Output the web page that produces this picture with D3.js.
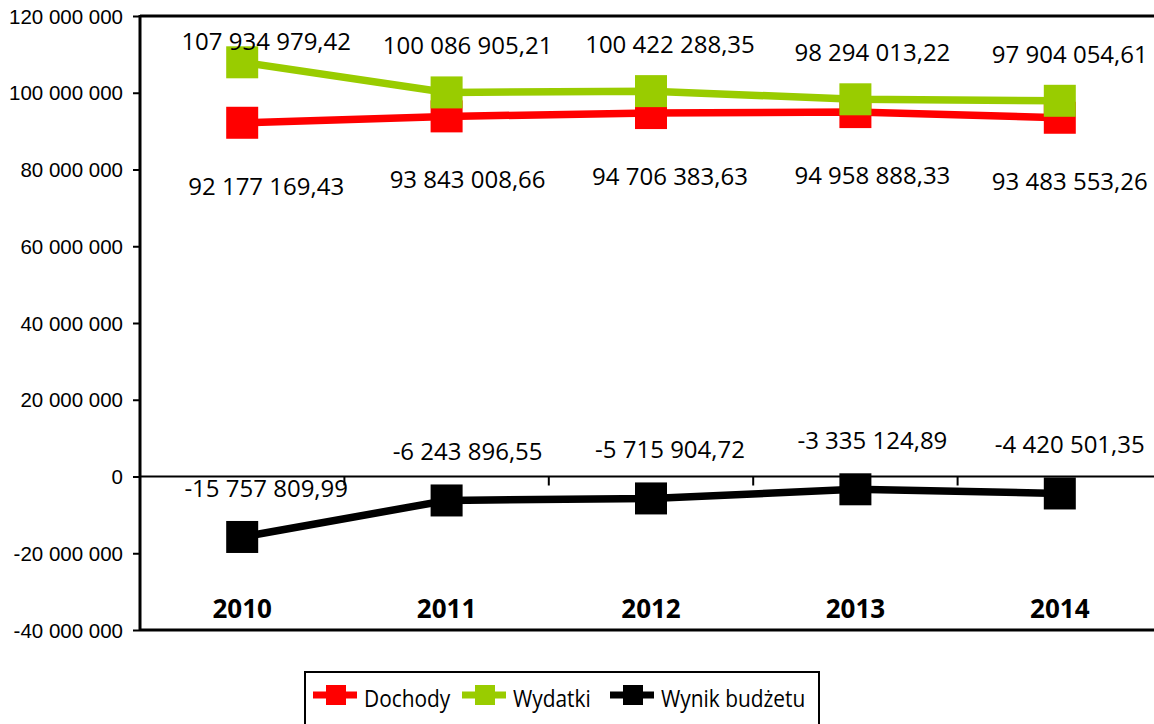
<!DOCTYPE html>
<html>
<head>
<meta charset="utf-8">
<script src="https://cdn.jsdelivr.net/npm/d3@7"></script>
<style>
  body { margin: 0; background: #fff; }
  svg { display: block; font-family: "Open Sans", sans-serif; }
</style>
</head>
<body>
<svg></svg>
<script>
let width = 1154;
let height = 724;

let years = ["2010", "2011", "2012", "2013", "2014"];
let dochody = [92177169.43, 93843008.66, 94706383.63, 94958888.33, 93483553.26];
let wydatki = [107934979.42, 100086905.21, 100422288.35, 98294013.22, 97904054.61];
let wynik = [-15757809.99, -6243896.55, -5715904.72, -3335124.89, -4420501.35];
let yTicks = [-40000000, -20000000, 0, 20000000, 40000000, 60000000, 80000000, 100000000, 120000000];
let seriesNames = ["Dochody", "Wydatki", "Wynik budżetu"];
let seriesColors = ["#ff0000", "#99cc00", "#000000"];

// przesunięcie etykiet w poziomie (jak w oryginale)
let labelDx = [24, 21, 19, 17, 10];

let series = [
    {name: seriesNames[0], values: dochody, color: seriesColors[0], labelDy: 72},
    {name: seriesNames[1], values: wydatki, color: seriesColors[1], labelDy: -38},
    {name: seriesNames[2], values: wynik, color: seriesColors[2], labelDy: -40}
];

let svg = d3.select("svg")
    .attr("width", width)
    .attr("height", height);

let plotLeft = 140, plotRight = 1162, plotTop = 16, plotBottom = 630;

let scaleX = d3.scaleBand()
    .domain(years)
    .range([plotLeft, plotRight])
    .padding(0);

let scaleY = d3.scaleLinear()
    .domain([-40000000, 120000000])
    .range([plotBottom, plotTop]);

// liczby po polsku: spacja tysięcy, przecinek dziesiętny
let fmtInt = v => d3.format(",.0f")(v).replace(/,/g, " ").replace("−", "-");
let fmtDec = v => d3.format(",.2f")(v).replace(/,/g, " ").replace(".", ",").replace("−", "-");

// oś Y
let axisY = d3.axisLeft(scaleY)
    .tickValues(yTicks)
    .tickSize(7)
    .tickFormat(fmtInt);

let gy = svg.append("g")
    .attr("transform", `translate(${plotLeft}, 0)`)
    .call(axisY);
gy.select(".domain").remove();
gy.selectAll("line").attr("stroke", "#000").attr("stroke-width", 2);
gy.selectAll("text")
    .attr("x", -17)
    .attr("dy", "0.35em")
    .style("font-size", "20.5px")
    .attr("fill", "#000");

svg.append("line")
    .attr("x1", plotLeft).attr("x2", plotLeft)
    .attr("y1", plotTop - 1).attr("y2", plotBottom + 1)
    .attr("stroke", "#000").attr("stroke-width", 3);

// ramka góra / dół
[plotTop, plotBottom].forEach(y => {
    svg.append("line")
        .attr("x1", plotLeft).attr("x2", width)
        .attr("y1", y).attr("y2", y)
        .attr("stroke", "#000").attr("stroke-width", 3);
});

// oś X na zerze
svg.append("line")
    .attr("x1", plotLeft).attr("x2", width)
    .attr("y1", scaleY(0)).attr("y2", scaleY(0))
    .attr("stroke", "#000").attr("stroke-width", 2);

svg.append("g")
    .selectAll("line")
    .data(years.slice(0, -1))
    .enter()
    .append("line")
    .attr("x1", d => scaleX(d) + scaleX.bandwidth())
    .attr("x2", d => scaleX(d) + scaleX.bandwidth())
    .attr("y1", scaleY(0))
    .attr("y2", scaleY(0) + 9)
    .attr("stroke", "#000").attr("stroke-width", 2);

// etykiety lat
svg.append("g")
    .selectAll("text")
    .data(years)
    .enter()
    .append("text")
    .attr("x", d => scaleX(d) + scaleX.bandwidth() / 2)
    .attr("y", 618)
    .attr("text-anchor", "middle")
    .style("font-size", "26px")
    .style("font-weight", "bold")
    .text(d => d);

let cx = (d, i) => scaleX(years[i]) + scaleX.bandwidth() / 2;

// linie i znaczniki
series.forEach(s => {
    let line = d3.line()
        .x(cx)
        .y(d => scaleY(d));
    svg.append("path")
        .datum(s.values)
        .attr("d", line)
        .attr("fill", "none")
        .attr("stroke", s.color)
        .attr("stroke-width", 7.5);
    svg.append("g")
        .selectAll("rect")
        .data(s.values)
        .enter()
        .append("rect")
        .attr("x", (d, i) => cx(d, i) - 16)
        .attr("y", d => scaleY(d) - 16)
        .attr("width", 32)
        .attr("height", 32)
        .attr("fill", s.color);
});

// etykiety danych
series.forEach(s => {
    svg.append("g")
        .selectAll("text")
        .data(s.values)
        .enter()
        .append("text")
        .attr("x", (d, i) => cx(d, i) + labelDx[i])
        .attr("y", d => Math.max(50, scaleY(d) + s.labelDy))
        .attr("text-anchor", "middle")
        .style("font-size", "24px")
        .attr("fill", "#000")
        .text(d => fmtDec(d));
});

// legenda
let legend = svg.append("g");
legend.append("rect")
    .attr("x", 305).attr("y", 672)
    .attr("width", 514).attr("height", 70)
    .attr("fill", "#fff")
    .attr("stroke", "#000").attr("stroke-width", 2);

let legendX = [313, 462, 610];
series.forEach((s, i) => {
    let g = legend.append("g").attr("transform", `translate(${legendX[i]}, 695)`);
    g.append("line")
        .attr("x1", 0).attr("x2", 44)
        .attr("y1", 0).attr("y2", 0)
        .attr("stroke", s.color).attr("stroke-width", 7);
    g.append("rect")
        .attr("x", 13).attr("y", -10)
        .attr("width", 20).attr("height", 20)
        .attr("fill", s.color);
    g.append("text")
        .attr("transform", "translate(51, 12) scale(0.87, 1)")
        .style("font-size", "24px")
        .text(s.name);
});
</script>
</body>
</html>
